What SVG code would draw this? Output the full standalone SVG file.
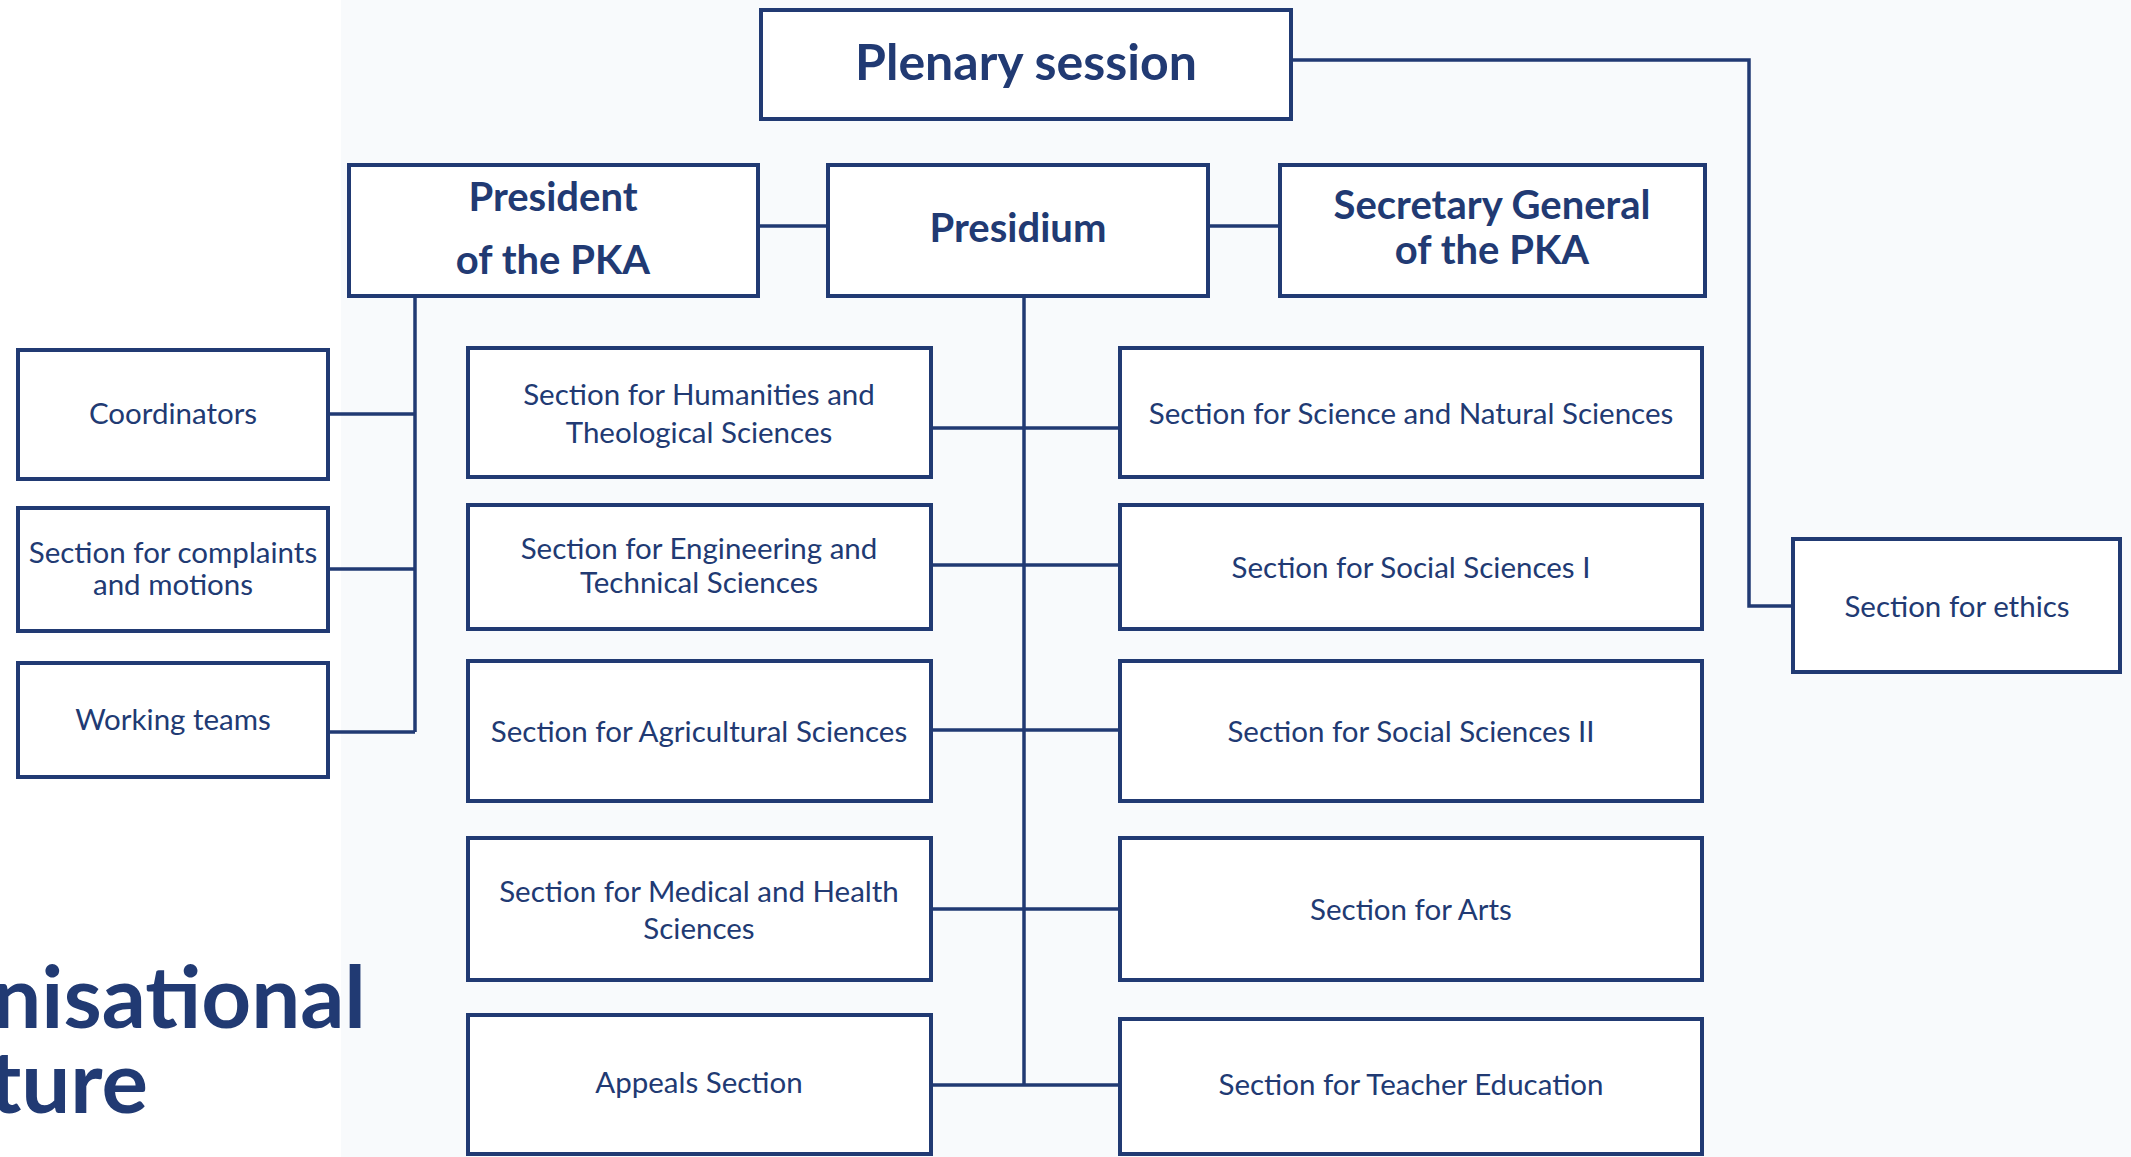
<svg xmlns="http://www.w3.org/2000/svg" width="2131" height="1157" viewBox="0 0 2131 1157">
<style>
.box{fill:#ffffff;stroke:#213a73;stroke-width:4}
.con{fill:none;stroke:#213a73;stroke-width:3.5}
.t{font-family:Lato,"Open Sans","Liberation Sans",sans-serif;font-size:29.5px;fill:#213a73;text-anchor:middle}
.b{font-family:Lato,"Open Sans","Liberation Sans",sans-serif;font-weight:bold;font-size:40px;fill:#213a73;text-anchor:middle}
.title{font-family:Lato,"Open Sans","Liberation Sans",sans-serif;font-weight:bold;font-size:87px;fill:#213a73;text-anchor:end}
</style>
<rect x="0" y="0" width="2131" height="1157" fill="#ffffff"/>
<rect x="341" y="0" width="1790" height="1157" fill="#f8fafc"/>
<g id="title">
<text class="title" x="366" y="1028">nisational</text>
<text class="title" x="148" y="1113">ture</text>
</g>
<g id="connectors">
<path class="con" d="M1291,60 H1749 V606 H1791"/>
<path class="con" d="M758,226 H828"/>
<path class="con" d="M1208,226 H1280"/>
<path class="con" d="M415,296 V732"/>
<path class="con" d="M328,414 H415"/>
<path class="con" d="M328,569 H415"/>
<path class="con" d="M328,732 H415"/>
<path class="con" d="M1024,296 V1085"/>
<path class="con" d="M931,428 H1120"/>
<path class="con" d="M931,565 H1120"/>
<path class="con" d="M931,730 H1120"/>
<path class="con" d="M931,909 H1120"/>
<path class="con" d="M931,1085 H1120"/>
</g>
<g id="plenary">
<rect class="box" x="761" y="10" width="530" height="109"/>
<text class="b" x="1026" y="80" style="font-size:50px">Plenary session</text>
</g>
<g id="president">
<rect class="box" x="349" y="165" width="409" height="131"/>
<text class="b" x="553" y="211">President</text>
<text class="b" x="553" y="274">of the PKA</text>
</g>
<g id="presidium">
<rect class="box" x="828" y="165" width="380" height="131"/>
<text class="b" x="1018" y="242">Presidium</text>
</g>
<g id="secretary">
<rect class="box" x="1280" y="165" width="425" height="131"/>
<text class="b" x="1492" y="219">Secretary General</text>
<text class="b" x="1492" y="264">of the PKA</text>
</g>
<g id="coordinators">
<rect class="box" x="18" y="350" width="310" height="129"/>
<text class="t" x="173" y="424">Coordinators</text>
</g>
<g id="complaints">
<rect class="box" x="18" y="508" width="310" height="123"/>
<text class="t" x="173" y="563">Section for complaints</text>
<text class="t" x="173" y="595">and motions</text>
</g>
<g id="working-teams">
<rect class="box" x="18" y="663" width="310" height="114"/>
<text class="t" x="173" y="730">Working teams</text>
</g>
<g id="humanities">
<rect class="box" x="468" y="348" width="463" height="129"/>
<text class="t" x="699" y="405">Section for Humanities and</text>
<text class="t" x="699" y="443">Theological Sciences</text>
</g>
<g id="engineering">
<rect class="box" x="468" y="505" width="463" height="124"/>
<text class="t" x="699" y="559">Section for Engineering and</text>
<text class="t" x="699" y="593">Technical Sciences</text>
</g>
<g id="agricultural">
<rect class="box" x="468" y="661" width="463" height="140"/>
<text class="t" x="699" y="742">Section for Agricultural Sciences</text>
</g>
<g id="medical">
<rect class="box" x="468" y="838" width="463" height="142"/>
<text class="t" x="699" y="902">Section for Medical and Health</text>
<text class="t" x="699" y="939">Sciences</text>
</g>
<g id="appeals">
<rect class="box" x="468" y="1015" width="463" height="139"/>
<text class="t" x="699" y="1093">Appeals Section</text>
</g>
<g id="science">
<rect class="box" x="1120" y="348" width="582" height="129"/>
<text class="t" x="1411" y="424">Section for Science and Natural Sciences</text>
</g>
<g id="social1">
<rect class="box" x="1120" y="505" width="582" height="124"/>
<text class="t" x="1411" y="578">Section for Social Sciences I</text>
</g>
<g id="social2">
<rect class="box" x="1120" y="661" width="582" height="140"/>
<text class="t" x="1411" y="742">Section for Social Sciences II</text>
</g>
<g id="arts">
<rect class="box" x="1120" y="838" width="582" height="142"/>
<text class="t" x="1411" y="920">Section for Arts</text>
</g>
<g id="teacher">
<rect class="box" x="1120" y="1019" width="582" height="135"/>
<text class="t" x="1411" y="1095">Section for Teacher Education</text>
</g>
<g id="ethics">
<rect class="box" x="1793" y="539" width="327" height="133"/>
<text class="t" x="1957" y="617">Section for ethics</text>
</g>
</svg>
